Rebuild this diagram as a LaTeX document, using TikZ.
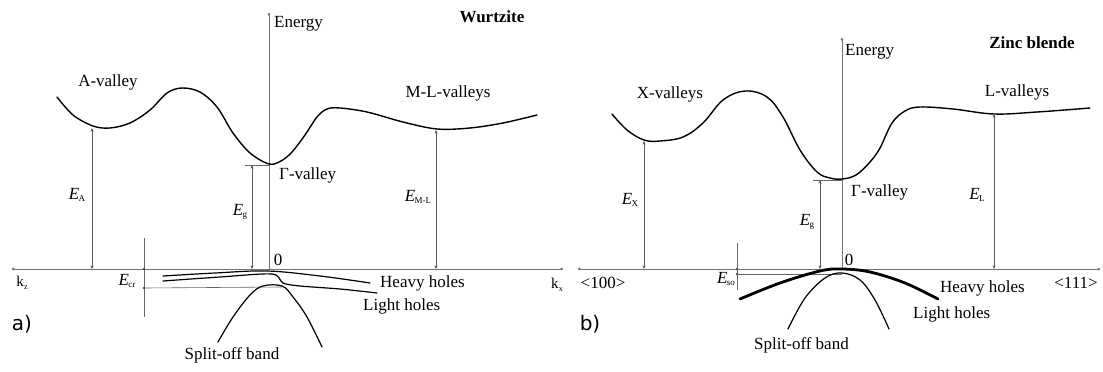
\documentclass[tikz,border=0pt]{standalone}
\usepackage{fontspec}
\setmainfont{Liberation Serif}
\newfontfamily\panelfont{DejaVu Sans}
\usetikzlibrary{arrows.meta}
\newcommand{\Elab}[1]{\textit{E}\kern-0.5pt\raisebox{-0.35ex}{\fontsize{9}{9}\selectfont #1}}
\newcommand{\klab}[1]{k\kern0.3pt\raisebox{-0.4ex}{\fontsize{8}{8}\selectfont #1}}
\tikzset{
  lbl/.style={font=\fontsize{17}{19}\selectfont, inner sep=0pt},
  blbl/.style={font=\fontsize{17}{19}\selectfont\bfseries, inner sep=0pt},
  klbl/.style={font=\fontsize{15}{17}\selectfont, inner sep=0pt},
  panel/.style={font=\panelfont\fontsize{20}{22}\selectfont, inner sep=0pt},
  axisline/.style={draw=black!55, line width=0.8pt},
  dotend/.style={-{Circle[length=2.6pt]}},
  dotboth/.style={{Circle[length=2.6pt]}-{Circle[length=2.6pt]}},
  gap/.style={draw=black!65, line width=0.6pt, {Stealth[length=3.5pt,width=3pt]}-{Stealth[length=3.5pt,width=3pt]}},
  thinline/.style={draw=black!60, line width=0.6pt},
  band/.style={draw=black, line width=1.4pt, line cap=round},
  thickband/.style={draw=black, line width=2.8pt, line cap=round},
}
\begin{document}
\begin{tikzpicture}[x=1pt,y=-1pt]
\useasboundingbox (0,0) rectangle (1103,372);
\fill[white] (0,0) rectangle (1103,372);

% ================= Panel a (Wurtzite) =================
\coordinate (ka1) at (12,269);
\coordinate (ka2) at (563,269);
\coordinate (ea0) at (269,269);
\coordinate (ea1) at (269,13);
\draw[axisline,dotboth] (ka1) -- (ka2);
\draw[axisline,dotend] (ea0) -- (ea1);

\node[lbl, anchor=west] (energyA) at (274,24) {Energy};
\node[blbl] (wurtz) at (492,17) {Wurtzite};
\node[lbl] (avalley) at (108,82) {A-valley};
\node[lbl] (mlvalley) at (448,93) {M-L-valleys};
\node[lbl, anchor=west] (gvalleyA) at (279,175) {Γ-valley};
\node[lbl] (zeroA) at (278,260) {0};
\node[klbl] (kz) at (22,283) {\klab{z}};
\node[klbl] (kx) at (557,285) {\klab{x}};
\node[panel] (pa) at (22,324) {a)};

% conduction band a
\draw[band] plot[smooth, tension=0.55] coordinates {
  (57,97) (73,115) (93,126) (110,128) (130,123) (150,110) (167,93) (182,88)
  (200,92) (217,107) (233,133) (250,153) (269,164) (281,161) (292,152)
  (305,135) (317,117) (327,109) (340,108) (367,112) (403,122) (437,129) (470,128)
  (503,123) (537,115)};

% energy gaps a
\coordinate (eA0) at (92,269);  \coordinate (eA1) at (92,128);
\draw[gap] (eA0) -- (eA1);
\node[lbl] (EA) at (77,195) {\Elab{A}};
\coordinate (eg0) at (252,269); \coordinate (eg1) at (252,165);
\coordinate (egt) at (269,165); \coordinate (egl) at (245,165);
\draw[thinline] (egl) -- (egt);
\draw[gap] (eg0) -- (eg1);
\node[lbl] (EgA) at (240,212) {\Elab{g}};
\coordinate (eml0) at (436,269); \coordinate (eml1) at (436,130);
\draw[gap] (eml0) -- (eml1);
\node[lbl] (EML) at (418,197) {\Elab{M-L}};

% crystal field splitting
\coordinate (cr0) at (144,238); \coordinate (cr1) at (144,317);
\draw[thinline] (cr0) -- (cr1);
\coordinate (crA) at (144,269); \coordinate (crB) at (144,288);
\fill[black!70] (crA) circle (1.4pt) (crB) circle (1.4pt);
\coordinate (crl) at (282,287);
\draw[thinline] (crB) -- (crl);
\node[lbl] (Ecr) at (127,281) {\Elab{cr}};

% valence bands a
\draw[band, line width=1.2pt] plot[smooth, tension=0.6] coordinates {
  (163,276) (215,273) (267,271) (320,276) (370,283)};
\draw[band, line width=1.2pt] plot[smooth, tension=0.5] coordinates {
  (163,281) (220,277) (272,274) (283,283) (300,286) (340,289) (377,293)};
\draw[band, line width=1.2pt] plot[smooth, tension=0.6] coordinates {
  (218,342) (233,317) (250,295) (263,286) (282,286) (293,297) (307,317) (322,347)};
\node[lbl, anchor=west] (hhA) at (380,283) {Heavy holes};
\node[lbl, anchor=west] (lhA) at (363,306) {Light holes};
\node[lbl] (soA) at (232,355) {Split-off band};

% ================= Panel b (Zinc blende) =================
\coordinate (kb1) at (578,269);
\coordinate (kb2) at (1100,269);
\coordinate (eb0) at (842,269);
\coordinate (eb1) at (842,38);
\draw[axisline,dotboth] (kb1) -- (kb2);
\draw[axisline,dotend] (eb0) -- (eb1);

\node[lbl, anchor=west] (energyB) at (845,52) {Energy};
\node[blbl] (zinc) at (1032,43) {Zinc blende};
\node[lbl] (xvalley) at (670,94) {X-valleys};
\node[lbl] (lvalley) at (1017,92) {L-valleys};
\node[lbl, anchor=west] (gvalleyB) at (851,192) {Γ-valley};
\node[lbl] (zeroB) at (849,260) {0};
\node[lbl] (k100) at (603,283) {<100>};
\node[lbl] (k111) at (1076,283) {<111>};
\node[panel] (pb) at (590,324) {b)};

% conduction band b
\draw[band] plot[smooth, tension=0.6] coordinates {
  (612,114) (627,130) (644,140) (660,141) (683,137) (703,123) (723,100)
  (745,91) (767,97) (783,117) (800,150) (817,172) (830,178) (842,179) (856,175)
  (870,162) (880,148) (892,123) (905,111) (920,107) (953,109) (994,114) (1037,112)
  (1090,108)};

% energy gaps b
\coordinate (eX0) at (644,269); \coordinate (eX1) at (644,141);
\draw[gap] (eX0) -- (eX1);
\node[lbl] (EX) at (630,200) {\Elab{X}};
\coordinate (egb0) at (820,269); \coordinate (egb1) at (820,180);
\coordinate (egbl) at (813,180); \coordinate (egbt) at (842,180);
\draw[thinline] (egbl) -- (egbt);
\draw[gap] (egb0) -- (egb1);
\node[lbl] (EgB) at (807,222) {\Elab{g}};
\coordinate (eL0) at (994,269); \coordinate (eL1) at (994,114);
\draw[gap] (eL0) -- (eL1);
\node[lbl] (EL) at (977,195) {\Elab{L}};

% spin-orbit splitting
\coordinate (so0) at (737,243); \coordinate (so1) at (737,290);
\draw[thinline] (so0) -- (so1);
\coordinate (soA1) at (737,269); \coordinate (soB1) at (737,274);
\fill[black!70] (soA1) circle (1.3pt) (soB1) circle (1.3pt);
\coordinate (sol) at (842,274);
\draw[thinline] (soB1) -- (sol);
\node[lbl] (Eso) at (726,279) {\Elab{so}};

% valence bands b
\draw[thickband] plot[smooth, tension=0.6] coordinates {
  (740,299) (780,283) (820,271) (842,269) (870,272) (905,283) (938,299)};
\draw[band, line width=1.2pt] plot[smooth, tension=0.6] coordinates {
  (788,329) (805,298) (825,278) (842,273) (860,280) (875,300) (889,329)};
\node[lbl, anchor=west] (hhB) at (940,288) {Heavy holes};
\node[lbl, anchor=west] (lhB) at (913,314) {Light holes};
\node[lbl, anchor=west] (soB) at (754,345) {Split-off band};
\end{tikzpicture}
\end{document}
